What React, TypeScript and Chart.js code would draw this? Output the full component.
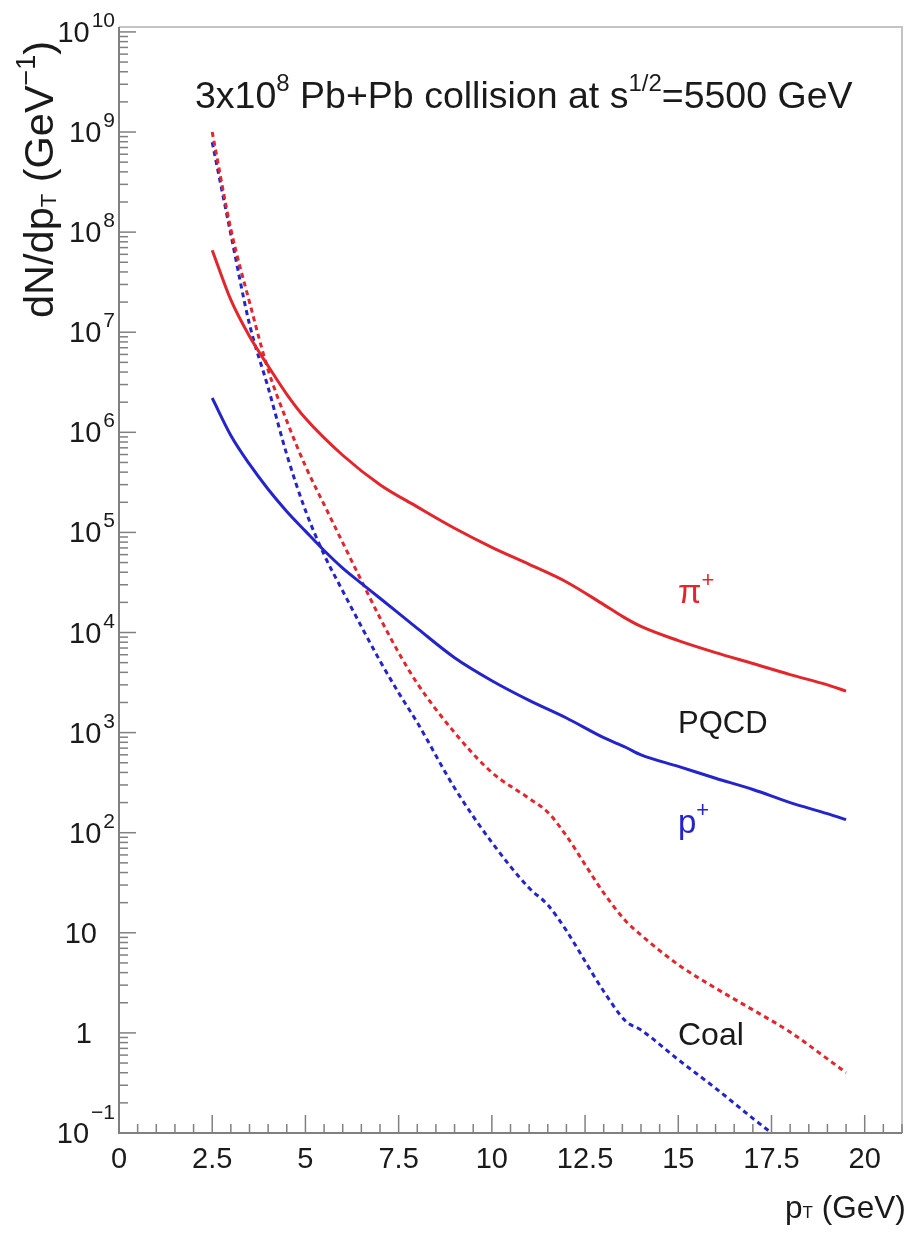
import React, { useEffect, useRef } from "react";
import { Chart, registerables } from "chart.js";
Chart.register(...registerables);

const FONT = '"Liberation Sans", Arial, Helvetica, sans-serif';

const X_MIN = 0;
const X_MAX = 21;
const Y_MIN = 0.1;
const Y_MAX = 1.12e10;

const xTickValues = [0, 2.5, 5, 7.5, 10, 12.5, 15, 17.5, 20];
const xTickLabels = ["0", "2.5", "5", "7.5", "10", "12.5", "15", "17.5", "20"];
const yDecadeExponents = [-1, 0, 1, 2, 3, 4, 5, 6, 7, 8, 9, 10];

// pi+ PQCD (red solid)
const pionPqcdPt = [2.5, 3, 3.5, 4, 4.5, 5, 6, 7, 8, 9, 10, 11, 12, 13, 13.5, 14, 15, 16, 17, 18, 19, 19.5];
const pionPqcdYield = [6.6e7, 2.1e7, 9.1e6, 4.6e6, 2.4e6, 1.38e6, 5.9e5, 3.0e5, 1.8e5, 1.1e5, 7.1e4, 4.8e4, 3.2e4, 1.9e4, 1.45e4, 1.15e4, 8.3e3, 6.3e3, 4.9e3, 3.8e3, 3.0e3, 2.6e3];

// p+ PQCD (blue solid)
const protonPqcdPt = [2.5, 3, 3.5, 4, 4.5, 5, 5.5, 6, 6.5, 7, 8, 9, 10, 11, 12, 13, 13.6, 14, 15, 16, 17, 18, 19, 19.5];
const protonPqcdYield = [2.2e6, 9.3e5, 4.8e5, 2.7e5, 1.62e5, 1.03e5, 6.6e4, 4.4e4, 3.1e4, 2.2e4, 1.1e4, 5.6e3, 3.3e3, 2.1e3, 1.4e3, 8.9e2, 7.1e2, 6.0e2, 4.6e2, 3.5e2, 2.7e2, 2.0e2, 1.55e2, 1.35e2];

// pi+ Coalescence (red dashed)
const pionCoalPt = [2.5, 3, 3.5, 4, 4.5, 5, 5.5, 6, 6.5, 7, 7.5, 8, 9, 10, 11, 11.5, 12, 12.5, 13, 13.6, 14, 15, 16, 17, 18, 19, 19.5];
const pionCoalYield = [1.0e9, 1.07e8, 2.0e7, 4.2e6, 1.3e6, 4.6e5, 1.9e5, 7.9e4, 3.3e4, 1.4e4, 6.3e3, 3.1e3, 1.0e3, 4.0e2, 2.2e2, 1.6e2, 93, 48, 25, 13, 9.5, 4.8, 2.8, 1.7, 1.02, 0.55, 0.4];

// p+ Coalescence (blue dashed)
const protonCoalPt = [2.5, 3, 3.5, 4, 4.5, 5, 5.5, 6, 6.5, 7, 7.5, 8, 9, 10, 11, 11.5, 12, 12.5, 13, 13.6, 14, 15, 16, 17, 17.5, 18];
const protonCoalYield = [7.9e8, 9.5e7, 1.2e7, 2.8e6, 6.0e5, 1.66e5, 6.0e4, 2.6e4, 1.15e4, 5.2e3, 2.5e3, 1.26e3, 2.8e2, 80, 28, 19, 10.5, 5.2, 2.6, 1.3, 1.07, 0.54, 0.28, 0.14, 0.1, 0.07];

const RED = "#e3262c";
const BLUE = "#2424cc";

type Part = { t: string; size: number; dy?: number };

function drawRich(ctx: CanvasRenderingContext2D, x: number, y: number, parts: Part[], align: "left" | "right" | "center" = "left", gap = 0) {
  let total = 0;
  const widths = parts.map((p) => {
    ctx.font = `${p.size}px ${FONT}`;
    const w = ctx.measureText(p.t).width;
    total += w;
    return w;
  });
  total += gap * (parts.length - 1);
  let cx = align === "left" ? x : align === "right" ? x - total : x - total / 2;
  ctx.textAlign = "left";
  ctx.textBaseline = "alphabetic";
  parts.forEach((p, i) => {
    ctx.font = `${p.size}px ${FONT}`;
    ctx.fillText(p.t, cx, y + (p.dy || 0));
    cx += widths[i] + gap;
  });
}

const overlayPlugin = {
  id: "rootStyleOverlay",
  afterDraw(chart: any) {
    const { ctx, chartArea: ca } = chart;
    const xs = chart.scales.x;
    const ys = chart.scales.y;
    ctx.save();

    // frame
    ctx.lineWidth = 2;
    ctx.strokeStyle = "#c4c4c4";
    ctx.beginPath();
    ctx.moveTo(ca.left, ca.top);
    ctx.lineTo(ca.right, ca.top);
    ctx.lineTo(ca.right, ca.bottom);
    ctx.stroke();
    ctx.strokeStyle = "#808080";
    ctx.beginPath();
    ctx.moveTo(ca.left, ca.top);
    ctx.lineTo(ca.left, ca.bottom);
    ctx.lineTo(ca.right, ca.bottom);
    ctx.stroke();

    // x ticks (inward)
    ctx.lineWidth = 1.5;
    ctx.strokeStyle = "#808080";
    for (let i = 0; i * 0.5 <= X_MAX + 1e-9; i++) {
      const v = i * 0.5;
      const px = xs.getPixelForValue(v);
      const len = i % 5 === 0 ? 18 : 9;
      ctx.beginPath();
      ctx.moveTo(px, ca.bottom);
      ctx.lineTo(px, ca.bottom - len);
      ctx.stroke();
    }
    // y ticks (inward)
    for (const k of yDecadeExponents) {
      for (let m = 1; m <= 9; m++) {
        const v = m * Math.pow(10, k);
        if (v > Y_MAX || v < Y_MIN) continue;
        const py = ys.getPixelForValue(v);
        const len = m === 1 ? 17 : 9;
        ctx.beginPath();
        ctx.moveTo(ca.left, py);
        ctx.lineTo(ca.left + len, py);
        ctx.stroke();
      }
    }

    ctx.fillStyle = "#1a1a1a";
    // x tick labels
    xTickValues.forEach((v, i) => {
      const px = xs.getPixelForValue(v);
      drawRich(ctx, px, ca.bottom + 35, [{ t: xTickLabels[i], size: 29 }], "center");
    });
    // y tick labels
    for (const k of yDecadeExponents) {
      const py = ys.getPixelForValue(Math.pow(10, k));
      if (k === 0) {
        drawRich(ctx, 92, py + 10, [{ t: "1", size: 29 }], "right");
      } else if (k === 1) {
        drawRich(ctx, 97, py + 10, [{ t: "10", size: 29 }], "right");
      } else {
        const sup = k < 0 ? "\u2212" + String(-k) : String(k);
        drawRich(ctx, 115, py + 10, [
          { t: "10", size: 29 },
          { t: sup, size: 21, dy: k < 0 ? -24 : -15 },
        ], "right", 2);
      }
    }

    // title
    drawRich(ctx, 195, 108, [
      { t: "3x10", size: 37.5 },
      { t: "8", size: 24, dy: -17 },
      { t: " Pb+Pb collision at s", size: 37.5 },
      { t: "1/2", size: 24, dy: -17 },
      { t: "=5500 GeV", size: 37.5 },
    ]);

    // x-axis title
    drawRich(ctx, 785, 1218, [
      { t: "p", size: 31.5 },
      { t: "T", size: 17, dy: 0 },
      { t: " (GeV)", size: 31.5 },
    ]);

    // y-axis title (rotated)
    ctx.save();
    ctx.translate(53, 318);
    ctx.rotate(-Math.PI / 2);
    drawRich(ctx, 0, 0, [
      { t: "dN/dp", size: 41.5 },
      { t: "T", size: 22, dy: 3 },
      { t: " (GeV", size: 41.5 },
      { t: "\u22121", size: 27, dy: -18 },
      { t: ")", size: 41.5 },
    ]);
    ctx.restore();

    // annotations
    ctx.fillStyle = RED;
    drawRich(ctx, 678, 603, [
      { t: "\u03c0", size: 34 },
      { t: "+", size: 22, dy: -16 },
    ]);
    ctx.fillStyle = "#1a1a1a";
    drawRich(ctx, 678, 733, [{ t: "PQCD", size: 31 }]);
    ctx.fillStyle = BLUE;
    drawRich(ctx, 678, 833, [
      { t: "p", size: 33 },
      { t: "+", size: 22, dy: -16 },
    ]);
    ctx.fillStyle = "#1a1a1a";
    drawRich(ctx, 678, 1045, [{ t: "Coal", size: 32 }]);

    ctx.restore();
  },
};

function toPoints(xs: number[], ys: number[]) {
  return xs.map((x, i) => ({ x, y: ys[i] }));
}

export default function App() {
  const ref = useRef<HTMLCanvasElement | null>(null);
  useEffect(() => {
    if (!ref.current) return;
    const common = {
      pointRadius: 0,
      borderWidth: 3,
      fill: false,
      cubicInterpolationMode: "monotone" as const,
    };
    const chart = new Chart(ref.current, {
      type: "line",
      data: {
        datasets: [
          { label: "π+ PQCD", data: toPoints(pionPqcdPt, pionPqcdYield), borderColor: RED, ...common },
          { label: "p+ PQCD", data: toPoints(protonPqcdPt, protonPqcdYield), borderColor: BLUE, ...common },
          { label: "π+ Coal", data: toPoints(pionCoalPt, pionCoalYield), borderColor: RED, borderDash: [5, 4], ...common },
          { label: "p+ Coal", data: toPoints(protonCoalPt, protonCoalYield), borderColor: BLUE, borderDash: [5, 4], ...common },
        ],
      },
      options: {
        responsive: false,
        animation: false,
        devicePixelRatio: 1,
        layout: { padding: { left: 119, right: 5, top: 27, bottom: 100 } },
        plugins: { legend: { display: false }, tooltip: { enabled: false }, title: { display: false } },
        scales: {
          x: { type: "linear", min: X_MIN, max: X_MAX, display: false },
          y: { type: "logarithmic", min: Y_MIN, max: Y_MAX, display: false },
        },
      },
      plugins: [overlayPlugin],
    });
    return () => chart.destroy();
  }, []);
  return (
    <div style={{ position: "absolute", left: 0, top: 0, width: 907, height: 1233, background: "#fff" }}>
      <canvas ref={ref} width={907} height={1233} style={{ display: "block", width: 907, height: 1233 }} />
    </div>
  );
}
